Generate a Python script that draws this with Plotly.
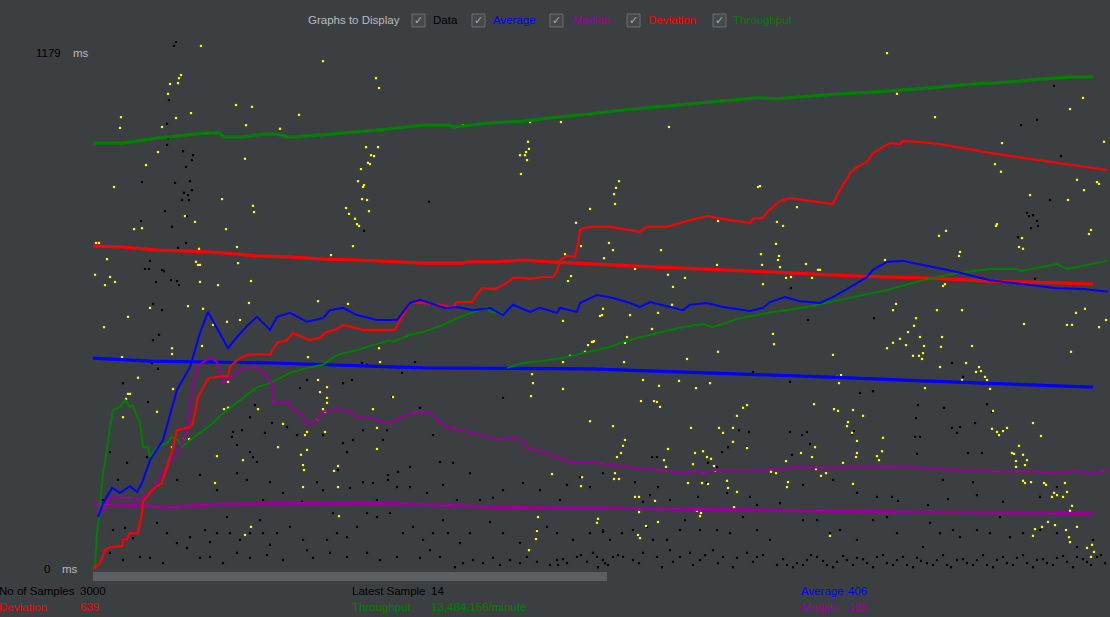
import plotly.graph_objs as go

# JMeter "Graph Results" listener, Darcula look.
# x = sample slot on the graph, y = milliseconds (throughput is drawn on the same scale)

y_max = 1179

# current run (long, flat curves)
average_run = [(0, 471), (57, 464), (180, 460), (330, 449), (497, 447), (597, 440),
               (730, 429), (830, 420), (930, 411), (1000, 406)]
median_run = [(0, 145), (30, 143), (77, 138), (130, 145), (277, 147), (344, 143), (397, 138),
              (457, 136), (517, 136), (654, 132), (810, 127), (947, 125), (1000, 123)]
deviation_run = [(0, 721), (30, 719), (64, 712), (97, 710), (130, 706), (164, 699), (197, 697),
                 (230, 692), (264, 690), (297, 686), (330, 683), (370, 683), (374, 686), (404, 686),
                 (430, 690), (457, 686), (497, 681), (564, 674), (630, 668), (697, 661), (764, 654),
                 (830, 650), (897, 643), (964, 639), (1000, 636)]
throughput_run = [(0, 951), (30, 951), (64, 962), (97, 971), (114, 974), (127, 974), (130, 965),
                  (150, 965), (170, 971), (184, 971), (194, 965), (204, 965), (230, 969), (264, 976),
                  (297, 983), (330, 991), (357, 991), (360, 987), (397, 996), (430, 1000), (464, 1009),
                  (497, 1016), (530, 1025), (564, 1032), (597, 1038), (630, 1045), (664, 1052),
                  (684, 1050), (714, 1056), (747, 1061), (780, 1065), (814, 1070), (847, 1076),
                  (880, 1083), (914, 1087), (947, 1094), (980, 1099), (1000, 1099)]

# earlier pass still painted on the canvas
average_prev = [(5, 116), (10, 147), (19, 181), (27, 170), (37, 185), (44, 172), (49, 192), (57, 243),
                (70, 288), (84, 400), (97, 451), (107, 527), (115, 574), (135, 493), (144, 518),
                (155, 545), (164, 563), (177, 534), (184, 563), (197, 572), (214, 552), (230, 560),
                (237, 578), (250, 583), (264, 567), (284, 556), (304, 556), (317, 594), (327, 601),
                (337, 594), (352, 583), (364, 585), (380, 578), (397, 583), (410, 567), (420, 590),
                (437, 574), (447, 583), (464, 572), (467, 583), (484, 574), (487, 594), (504, 612),
                (520, 605), (537, 594), (547, 585), (557, 596), (590, 578), (597, 590), (614, 594),
                (630, 585), (657, 576), (670, 583), (677, 596), (692, 607), (707, 598), (727, 594),
                (742, 610), (754, 625), (774, 652), (780, 668), (794, 686), (810, 688), (830, 679),
                (864, 663), (897, 645), (930, 636), (964, 627), (990, 625), (1015, 619)]
median_prev = [(2, 127), (10, 132), (17, 161), (27, 159), (40, 159), (47, 154), (50, 161), (59, 176),
               (67, 205), (75, 237), (85, 261), (92, 295), (97, 355), (100, 415), (104, 449), (110, 462),
               (117, 473), (124, 462), (130, 415), (150, 449), (164, 451), (179, 415), (180, 373),
               (197, 373), (200, 355), (210, 344), (214, 322), (224, 333), (230, 351), (244, 357),
               (257, 351), (264, 339), (280, 337), (290, 326), (297, 326), (307, 337), (317, 348),
               (330, 351), (340, 344), (347, 326), (357, 315), (380, 304), (407, 288), (417, 295),
               (430, 288), (434, 270), (450, 261), (464, 250), (477, 239), (497, 239), (514, 234),
               (540, 226), (570, 221), (590, 214), (604, 219), (610, 214), (624, 221), (670, 221),
               (704, 228), (730, 226), (777, 228), (814, 228), (830, 226), (864, 221), (917, 217),
               (930, 219), (964, 214), (980, 219), (1000, 214), (1014, 221)]
deviation_prev = [(0, 0), (7, 13), (12, 42), (17, 49), (29, 51), (30, 65), (34, 67), (37, 80), (45, 80),
                  (49, 125), (50, 150), (59, 176), (69, 192), (74, 228), (80, 272), (84, 310), (97, 317),
                  (100, 326), (105, 384), (114, 422), (117, 427), (135, 431), (137, 451), (144, 467),
                  (154, 478), (165, 480), (177, 478), (184, 505), (194, 511), (200, 527), (217, 511),
                  (227, 516), (232, 527), (244, 536), (250, 545), (270, 534), (280, 534), (302, 534),
                  (305, 549), (314, 585), (317, 594), (330, 594), (347, 590), (360, 585), (364, 596),
                  (379, 596), (382, 607), (389, 627), (402, 625), (414, 639), (420, 650), (430, 650),
                  (437, 648), (450, 652), (460, 652), (464, 665), (467, 690), (474, 699), (482, 697),
                  (485, 728), (487, 757), (490, 761), (497, 764), (517, 764), (547, 753), (554, 764),
                  (574, 764), (597, 779), (614, 788), (637, 779), (657, 773), (660, 782), (670, 784),
                  (674, 797), (687, 822), (697, 828), (710, 824), (730, 817), (740, 815), (744, 835),
                  (757, 884), (764, 898), (774, 909), (780, 929), (790, 942), (797, 951), (807, 949),
                  (810, 956), (824, 954), (847, 949), (864, 942), (897, 929), (930, 918), (964, 907),
                  (997, 898), (1014, 891)]
throughput_prev_a = [(2, 0), (4, 80), (7, 138), (10, 214), (14, 266), (17, 317), (20, 355), (27, 362),
                     (32, 377), (37, 362), (40, 366), (44, 339), (47, 328), (50, 272), (55, 272),
                     (57, 250), (64, 272), (74, 281), (79, 295), (85, 288), (89, 272), (97, 288),
                     (107, 304), (120, 326), (130, 348), (147, 377), (164, 406), (177, 415), (197, 438),
                     (214, 449), (230, 456), (244, 478), (264, 489), (280, 500), (297, 511), (300, 507),
                     (317, 523), (330, 529), (350, 545), (364, 560), (380, 574), (394, 585), (397, 574),
                     (410, 572)]
throughput_prev_b = [(414, 449), (430, 460), (457, 467), (470, 471), (490, 482), (517, 496), (530, 507),
                     (564, 527), (590, 540), (610, 547), (620, 540), (647, 560), (680, 574), (714, 585),
                     (747, 601), (772, 612), (794, 623), (830, 645), (864, 661), (897, 670), (924, 670),
                     (927, 665), (964, 681), (974, 670), (1014, 688)]

# individual samples (black) and the older samples left on the canvas (yellow)
data_black = [
    (83, 1177), (81, 1168), (76, 1047), (74, 994), (75, 962), (74, 947), (90, 933), (100, 924), (99, 913),
    (93, 898), (49, 864), (82, 862), (97, 866), (99, 846), (91, 840), (95, 835), (89, 824), (96, 824),
    (72, 799), (94, 788), (48, 777), (79, 764), (93, 728), (85, 717), (57, 688), (52, 670), (56, 670),
    (69, 668), (71, 665), (63, 641), (78, 645), (84, 643), (86, 634), (336, 820), (271, 755), (961, 1079),
    (928, 991), (944, 1003), (968, 922), (957, 824), (934, 795), (940, 790), (936, 788), (944, 777),
    (945, 766), (938, 761), (925, 741), (942, 648), (698, 627),
    (60, 592), (69, 578), (66, 523), (60, 511), (59, 460), (65, 447), (30, 415), (55, 373), (259, 422),
    (299, 384), (322, 462), (274, 456), (269, 460), (309, 438), (214, 422), (207, 404), (250, 415),
    (410, 382), (139, 295), (140, 306), (144, 277), (149, 310), (162, 366), (157, 339), (157, 261),
    (160, 250), (164, 239), (172, 304), (179, 326), (194, 317), (204, 299), (230, 299), (250, 281),
    (254, 261), (260, 288), (270, 310), (290, 288), (294, 310), (295, 199), (305, 217), (317, 228),
    (347, 239), (340, 299), (360, 237), (327, 360), (17, 261), (34, 237), (25, 199), (54, 250), (64, 183),
    (84, 199), (107, 210), (124, 176), (144, 214), (154, 199), (177, 194), (190, 170), (170, 154),
    (209, 150), (224, 194), (230, 176), (245, 221), (257, 181), (270, 194), (280, 192), (284, 154),
    (295, 210), (304, 183), (317, 183), (334, 170), (350, 188), (364, 154), (377, 214), (387, 154),
    (400, 159), (410, 176), (430, 192), (447, 176), (474, 188), (467, 154), (487, 205), (497, 183),
    (510, 214),
    (10, 154), (20, 87), (32, 92), (40, 69), (64, 103), (74, 80), (84, 58), (97, 71), (112, 87), (117, 60),
    (124, 80), (134, 116), (137, 80), (147, 65), (157, 80), (167, 109), (170, 80), (177, 54), (184, 80),
    (197, 94), (210, 65), (234, 65), (240, 125), (244, 80), (254, 71), (264, 94), (274, 125), (284, 116),
    (297, 125), (310, 80), (320, 94), (330, 65), (340, 80), (350, 109), (355, 80), (367, 58), (377, 80),
    (397, 105), (410, 80), (427, 58), (444, 87), (454, 94), (464, 80), (480, 65), (497, 80), (510, 87),
    (17, 36), (30, 20), (47, 27), (57, 25), (70, 13), (94, 47), (107, 25), (117, 27), (130, 13), (144, 36),
    (157, 25), (174, 31), (190, 20), (214, 42), (220, 25), (237, 36), (254, 27), (274, 36), (287, 20),
    (304, 27), (327, 25), (337, 42), (347, 27), (362, 4), (370, 13), (380, 20), (390, 13), (400, 25),
    (407, 9), (417, 20), (427, 13), (434, 27), (444, 16), (457, 9), (464, 20), (474, 13), (484, 27),
    (494, 16), (504, 27), (512, 13),
    (715, 556), (781, 560), (660, 440), (697, 418), (767, 393), (780, 397), (859, 460), (870, 429),
    (851, 360), (825, 366), (823, 337), (894, 368), (899, 351), (859, 315), (867, 317), (864, 304),
    (882, 326), (822, 295), (827, 295), (761, 308), (759, 301), (697, 306), (709, 299), (714, 306),
    (656, 306), (646, 310), (717, 279), (654, 272), (635, 272), (629, 261), (624, 228), (615, 237),
    (559, 250), (564, 250), (699, 255), (824, 257), (875, 259), (889, 259), (542, 194), (557, 165),
    (565, 183), (550, 150), (577, 154), (605, 161), (614, 192), (634, 170), (657, 161), (664, 143),
    (687, 147), (710, 188), (740, 199), (764, 170), (784, 161), (799, 161), (805, 152), (835, 143),
    (855, 156), (880, 194), (884, 165), (910, 150), (850, 199), (947, 161), (964, 183),
    (510, 83), (517, 65), (529, 80), (540, 87), (554, 94), (560, 65), (574, 65), (587, 87), (592, 109),
    (607, 87), (624, 87), (637, 80), (650, 116), (664, 87), (677, 65), (710, 109), (724, 109), (737, 80),
    (747, 87), (764, 65), (780, 109), (794, 116), (804, 80), (830, 49), (837, 103), (847, 80), (860, 87),
    (867, 71), (884, 87), (897, 80), (907, 116), (917, 71), (930, 80), (947, 87), (964, 80), (984, 49),
    (1000, 65),
    (500, 36), (510, 20), (520, 27), (530, 27), (540, 20), (550, 36), (564, 27), (577, 42), (587, 27),
    (597, 36), (607, 20), (620, 42), (630, 27), (644, 25), (654, 36), (664, 27), (684, 9), (694, 9),
    (704, 13), (714, 20), (724, 27), (734, 9), (744, 16), (754, 20), (764, 25), (774, 13), (784, 27),
    (794, 13), (804, 20), (814, 9), (824, 25), (834, 13), (844, 20), (854, 9), (864, 20), (874, 13),
    (884, 20), (894, 9), (904, 20), (914, 13), (924, 25), (934, 13), (944, 20), (954, 13), (964, 25),
    (974, 16), (984, 27), (994, 16), (1004, 27), (1012, 13),
    (465, 9), (470, 22), (488, 31), (505, 4), (515, 9), (525, 31), (546, 13), (569, 4), (580, 16),
    (600, 9), (612, 31), (625, 13), (640, 4), (660, 16), (670, 31), (690, 22), (700, 4), (710, 9),
    (718, 31), (730, 18), (740, 4), (750, 29), (760, 9), (770, 22), (780, 4), (790, 31), (800, 9),
    (810, 27), (820, 4), (828, 18), (840, 9), (850, 31), (858, 4), (870, 22), (880, 9), (890, 31),
    (900, 4), (910, 27), (920, 9), (930, 31), (940, 4), (950, 22), (960, 9), (970, 29), (980, 4),
    (990, 22), (998, 9), (1008, 31),
]
data_yellow = [
    (108, 1168), (230, 1134), (88, 1103), (86, 1096), (77, 1083), (85, 1085), (75, 1061), (283, 1096),
    (286, 1074), (143, 1036), (159, 1032), (206, 1014), (98, 1018), (28, 1009), (27, 985), (83, 1007),
    (69, 987), (153, 991), (187, 983), (370, 991), (437, 998), (468, 998), (273, 942), (285, 942),
    (278, 924), (281, 922), (275, 907), (277, 904), (268, 893), (265, 866), (271, 857), (270, 853),
    (269, 826), (274, 824), (276, 799), (253, 806), (256, 793), (262, 782), (264, 770), (266, 766),
    (260, 721), (238, 701), (435, 954), (436, 938), (433, 931), (427, 924), (432, 924), (434, 913),
    (428, 882), (65, 931), (53, 902), (21, 853), (152, 916), (129, 826), (160, 811), (161, 797),
    (92, 788), (102, 775), (133, 759), (41, 759), (49, 761), (3, 728), (6, 728), (106, 715), (144, 719),
    (14, 692), (103, 686), (105, 679), (107, 679), (145, 683), (2, 657), (17, 652), (12, 634), (22, 641),
    (107, 641), (125, 634), (158, 643), (483, 773), (488, 721), (472, 703), (475, 643), (478, 654),
    (794, 1152), (804, 1061), (576, 987), (842, 1009), (990, 1052), (977, 1027), (1011, 954), (909, 951),
    (902, 904), (908, 887), (984, 869), (991, 846), (1004, 864), (1006, 860), (937, 835), (975, 824),
    (526, 866), (523, 851), (521, 837), (522, 815), (497, 804), (665, 853), (667, 855), (704, 808),
    (625, 777), (684, 775), (690, 766), (904, 770), (903, 766), (853, 755), (846, 744), (929, 739),
    (998, 757), (996, 748), (926, 719), (930, 715), (516, 728), (520, 712), (568, 712), (683, 726),
    (686, 699), (685, 690), (668, 703), (511, 694), (542, 670), (624, 679), (669, 679), (687, 674),
    (713, 681), (792, 690), (867, 708), (866, 699), (725, 668), (727, 668), (575, 657), (592, 650),
    (693, 650), (698, 652), (719, 650), (850, 632), (852, 636), (580, 630), (670, 636),
    (11, 540), (35, 563), (57, 583), (95, 587), (110, 581), (134, 552), (147, 556), (156, 594),
    (225, 598), (255, 592), (29, 473), (79, 493), (79, 480), (45, 427), (80, 402), (35, 391), (37, 391),
    (33, 380), (64, 351), (30, 339), (109, 498), (120, 545), (135, 418), (225, 422), (227, 395),
    (234, 406), (234, 382), (234, 371), (215, 473), (286, 493), (287, 462), (300, 384), (165, 357),
    (131, 357), (135, 360), (190, 324), (230, 357), (232, 351), (280, 357), (224, 333), (284, 315),
    (214, 306), (212, 299), (232, 306), (91, 290), (96, 290), (79, 272), (185, 272), (214, 266),
    (284, 268), (124, 252), (150, 243), (208, 255), (210, 232), (211, 221), (241, 219), (245, 230),
    (210, 183), (245, 183), (122, 192), (246, 118), (158, 94), (152, 76), (436, 42), (445, 116),
    (505, 112), (504, 103), (444, 85), (443, 67), (459, 212), (489, 205), (488, 185), (497, 330),
    (470, 462), (470, 402), (438, 386), (440, 415), (439, 435), (492, 485), (477, 476), (495, 500),
    (499, 507), (501, 509), (509, 567), (510, 581), (470, 554),
    (507, 565), (537, 567), (565, 572), (579, 590), (559, 536), (500, 507), (534, 518), (532, 505),
    (594, 469), (625, 485), (531, 462), (680, 525), (681, 502), (740, 478), (748, 433), (744, 429),
    (746, 415), (800, 578), (803, 592), (844, 578), (869, 578), (931, 547), (974, 545), (979, 545),
    (983, 572), (992, 581), (1006, 540), (1013, 556), (823, 560), (821, 543), (815, 529), (807, 514),
    (800, 505), (813, 500), (794, 493), (827, 518), (831, 498), (849, 518), (848, 496), (879, 498),
    (978, 485), (820, 476), (826, 476), (829, 469), (830, 482), (847, 451), (873, 460), (886, 451),
    (883, 440), (888, 442), (892, 429), (894, 422), (869, 422), (897, 402), (832, 404), (550, 422),
    (566, 409), (586, 420), (603, 404), (617, 415), (548, 375), (561, 375), (564, 373), (567, 362),
    (520, 319), (532, 288), (530, 275), (524, 250), (528, 259), (598, 315), (626, 315), (644, 342),
    (650, 360), (654, 366), (640, 315), (630, 304), (640, 284), (654, 270), (721, 368), (741, 357),
    (745, 353), (760, 355), (770, 342), (755, 328), (754, 319), (759, 304), (764, 286), (790, 293),
    (789, 263), (784, 252), (786, 243), (764, 259), (763, 250), (750, 237), (722, 272), (708, 259),
    (719, 250), (693, 241), (695, 194), (694, 183), (683, 214), (678, 217), (573, 228), (571, 243),
    (575, 268), (602, 259), (610, 263), (614, 250), (618, 246), (621, 230), (600, 234), (595, 192),
    (609, 192), (615, 190), (634, 197), (644, 172), (635, 181), (622, 219), (723, 223), (728, 208),
    (733, 214), (760, 190), (900, 353), (904, 306), (899, 313), (910, 308), (906, 299), (914, 315),
    (940, 326), (948, 297), (926, 275), (919, 259), (921, 257), (930, 255), (934, 243), (923, 241),
    (932, 232), (923, 228), (930, 197), (932, 192), (938, 194), (951, 192), (953, 188), (972, 192),
    (974, 172), (961, 170), (964, 165), (959, 161), (970, 161), (979, 141), (977, 130), (942, 89),
    (949, 94), (955, 105), (962, 98), (973, 87), (984, 94), (976, 71), (977, 60), (940, 74), (994, 47),
    (1001, 38), (998, 27), (999, 54), (522, 214), (521, 201), (526, 201), (542, 161), (546, 161),
    (562, 152), (546, 127), (565, 105), (553, 96), (545, 76), (547, 69), (737, 74), (604, 130),
    (607, 118), (608, 125), (641, 138),
]

# texts of the panel
checkbox_labels = ["Data", "Average", "Median", "Deviation", "Throughput"]
samples_count = "3000"
latest_sample = "14"
average_value = "406"
median_value = "125"
deviation_value = "639"
throughput_value = "13,484.156/minute"

BG = "#3c3f41"
FONT = "Liberation Sans"
FS = 11.5
c_data, c_avg, c_med, c_dev, c_thr = "#000000", "#0000ff", "#990099", "#ff0000", "#008000"
c_old = "#ffff00"


def xy(points):
    return [p[0] for p in points], [p[1] for p in points]


fig = go.Figure()

for pts, col in [(data_black, c_data), (data_yellow, c_old)]:
    x, y = xy(pts)
    fig.add_trace(go.Scatter(x=x, y=y, mode="markers",
                             marker=dict(symbol="square", size=2.2, color=col, line=dict(width=0))))

for pts, col, w in [(throughput_run, c_thr, 3.2), (deviation_run, c_dev, 3.2),
                    (average_run, c_avg, 3.2), (median_run, c_med, 3.2),
                    (throughput_prev_a, c_thr, 1.9), (throughput_prev_b, c_thr, 1.9),
                    (median_prev, c_med, 2.0), (deviation_prev, c_dev, 2.2),
                    (average_prev, c_avg, 2.0)]:
    x, y = xy(pts)
    fig.add_trace(go.Scatter(x=x, y=y, mode="lines", line=dict(color=col, width=w)))


# pixel -> paper helpers (plot area is 93..1110 x 41..569)
def px(x):
    return (x - 93) / 1017


def py(y):
    return (569 - y) / 528


ann = []
shapes = []


def text(x, y, s, col, size=FS, anchor="left"):
    ann.append(dict(x=px(x), y=py(y), xref="paper", yref="paper", text=s, showarrow=False,
                    xanchor=anchor, yanchor="middle", font=dict(family=FONT, size=size, color=col)))


# checkbox header
text(306, 20, "Graphs to Display", "#bbbbbb")
box_x = [412, 472, 550, 627, 713]
label_x = [431, 491, 570, 646, 731]
label_col = [c_data, c_avg, c_med, c_dev, c_thr]
for bx, lx, lab, col in zip(box_x, label_x, checkbox_labels, label_col):
    shapes.append(dict(type="rect", xref="paper", yref="paper", x0=px(bx), x1=px(bx + 13),
                       y0=py(27), y1=py(14), line=dict(color="#6b6e70", width=1), fillcolor="#45494a"))
    ann.append(dict(x=px(bx + 6.5), y=py(20.5), xref="paper", yref="paper", text="✓", showarrow=False,
                    xanchor="center", yanchor="middle",
                    font=dict(family="DejaVu Sans", size=11, color="#a9abad")))
    text(lx, 20, lab, col)

# y labels
text(63, 53, str(y_max), "#000000", anchor="right")
text(71, 53, "ms", "#bbbbbb")
text(52, 569, "0", "#000000", anchor="right")
text(60, 569, "ms", "#bbbbbb")

# scroll bar
shapes.append(dict(type="rect", xref="paper", yref="paper", x0=px(93), x1=px(607),
                   y0=py(581), y1=py(572), line=dict(width=0), fillcolor="#5c5f61", layer="below"))

# statistics
text(-3, 591, "No of Samples", "#000000")
text(78, 591, samples_count, "#000000")
text(-3, 607, "Deviation", c_dev)
text(78, 607, deviation_value, c_dev)
text(350, 591, "Latest Sample", "#000000")
text(429, 591, latest_sample, "#000000")
text(350, 607, "Throughput", c_thr)
text(429, 607, throughput_value, c_thr)
text(799, 591, "Average", c_avg)
text(846, 591, average_value, c_avg)
text(799, 607, "Median", c_med)
text(846, 607, median_value, c_med)

fig.update_layout(
    width=1110, height=617, autosize=False,
    margin=dict(l=93, r=0, t=41, b=48),
    paper_bgcolor=BG, plot_bgcolor=BG,
    showlegend=False, hovermode=False,
    xaxis=dict(range=[0, 1017], visible=False, fixedrange=True),
    yaxis=dict(range=[0, y_max], visible=False, fixedrange=True),
    annotations=ann, shapes=shapes,
)

fig.write_html("out.html", config=dict(displayModeBar=False),
               post_script="document.body.style.margin='0';document.body.style.overflow='hidden';")
